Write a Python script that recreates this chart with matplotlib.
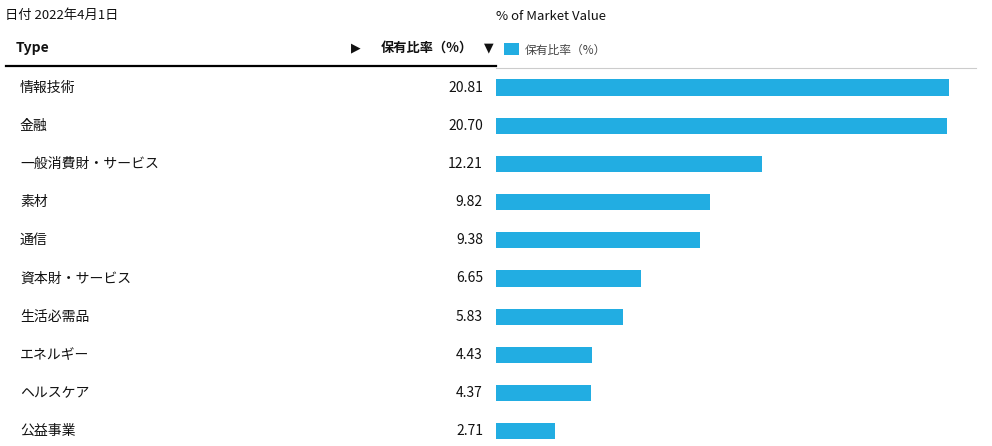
import matplotlib.pyplot as plt
from matplotlib.transforms import blended_transform_factory

plt.rcParams['font.family'] = ['Noto Sans CJK JP', 'DejaVu Sans']

## DATA
sectors = ["情報技術", "金融", "一般消費財・サービス", "素材", "通信",
           "資本財・サービス", "生活必需品", "エネルギー", "ヘルスケア", "公益事業"]
weights = [20.81, 20.70, 12.21, 9.82, 9.38, 6.65, 5.83, 4.43, 4.37, 2.71]

BAR_COLOR = "#22ADE2"
TEXT_COLOR = "#111111"

W, H = 992, 446
fig = plt.figure(figsize=(W / 100, H / 100), dpi=100)
fig.set_facecolor("white")

# bar axes: x from px 496 to 976, y from px 68 to 446
ax = fig.add_axes([496 / W, 0, (976 - 496) / W, (446 - 68) / H])
ax.barh(range(len(weights)), weights, height=0.42, color=BAR_COLOR)
ax.set_xlim(0, (976 - 496) / (453 / 20.81))
ax.set_ylim((446 - 87.5) / 38.2, -(87.5 - 68) / 38.2)
ax.axis("off")

# row labels and values
tr = blended_transform_factory(fig.transFigure, ax.transData)
for i, (name, val) in enumerate(zip(sectors, weights)):
    ax.text(20 / W, i, name, transform=tr, fontsize=10, color=TEXT_COLOR,
            ha="left", va="center")
    ax.text(483 / W, i, f"{val:.2f}", transform=tr, fontsize=10,
            color=TEXT_COLOR, ha="right", va="center")

def fx(px):
    return px / W

def fy(py):
    return 1 - py / H

# header
fig.text(fx(5), fy(15), "日付 2022年4月1日", fontsize=9.5, color=TEXT_COLOR,
         ha="left", va="center")
fig.text(fx(496), fy(16), "% of Market Value", fontsize=9.5, color=TEXT_COLOR,
         ha="left", va="center")
fig.text(fx(16), fy(48), "Type", fontsize=10, fontweight="bold",
         color=TEXT_COLOR, ha="left", va="center")
fig.text(fx(356), fy(48), "▶", fontsize=9, color=TEXT_COLOR,
         ha="center", va="center", family=["DejaVu Sans"])
fig.text(fx(473), fy(48), "保有比率（%）", fontsize=9.5, fontweight="bold",
         color=TEXT_COLOR, ha="right", va="center")
fig.text(fx(489), fy(48), "▼", fontsize=9, color=TEXT_COLOR,
         ha="center", va="center", family=["DejaVu Sans"])

# header lines
fig.add_artist(plt.Line2D([fx(6), fx(496)], [fy(65.5), fy(65.5)],
                          color="black", linewidth=1.6))
fig.add_artist(plt.Line2D([fx(496), fx(976)], [fy(68), fy(68)],
                          color="#cccccc", linewidth=0.8))

# legend
fig.add_artist(plt.Rectangle((fx(504), fy(55)), 15 / W, 12 / H,
                             facecolor=BAR_COLOR, edgecolor="none"))
fig.text(fx(525), fy(50), "保有比率（%）", fontsize=8.5, color="#444444",
         ha="left", va="center")

plt.savefig("out.png", dpi=100)
